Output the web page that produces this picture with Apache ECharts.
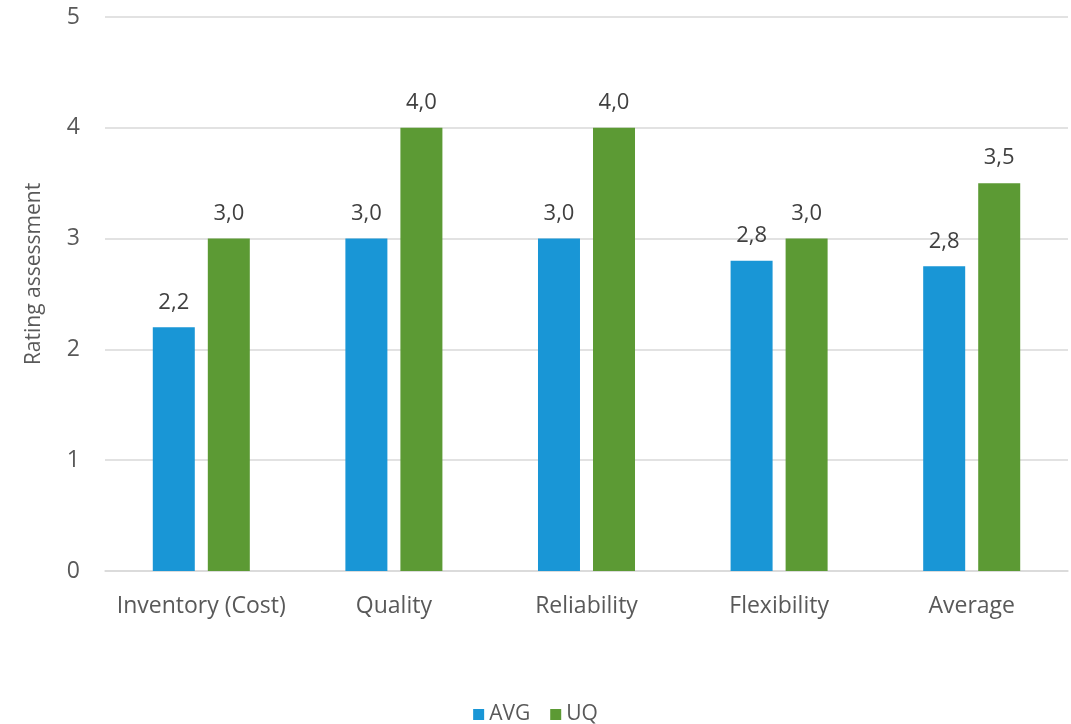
<!DOCTYPE html>
<html><head><meta charset="utf-8">
<script src="https://cdn.jsdelivr.net/npm/echarts@6/dist/echarts.min.js"></script>
<style>html,body{margin:0;padding:0;background:#fff}#c{width:1071px;height:724px}</style>
</head><body><div id="c"></div>
<script>
var categories = ['Inventory (Cost)', 'Quality', 'Reliability', 'Flexibility', 'Average'];
var avgValues = [2.2, 3.0, 3.0, 2.8, 2.75];
var uqValues = [3.0, 4.0, 4.0, 3.0, 3.5];
var yTicks = [0, 1, 2, 3, 4, 5];
var FONT = '"Open Sans", sans-serif';
function fmt(p){ return p.value.toFixed(1).replace('.', ','); }
var chart = echarts.init(document.getElementById('c'));
chart.setOption({
  animation: false,
  textStyle: {fontFamily: FONT},
  grid: {left: 105, right: 3, top: 17, bottom: 153},
  legend: {
    top: 699, left: 'center', itemWidth: 11, itemHeight: 11, itemGap: 20,
    icon: 'rect',
    textStyle: {fontFamily: FONT, fontSize: 21, color: '#595959'},
    data: ['AVG', 'UQ']
  },
  xAxis: {
    type: 'category', data: categories,
    axisLine: {lineStyle: {color: '#d9d9d9', width: 1.5}},
    axisTick: {show: false},
    axisLabel: {interval: 0, fontFamily: FONT, fontSize: 23, color: '#595959', margin: 24}
  },
  yAxis: {
    type: 'value', min: yTicks[0], max: yTicks[yTicks.length - 1], interval: 1,
    name: 'Rating assessment', nameLocation: 'middle', nameGap: 60,
    nameTextStyle: {fontFamily: FONT, fontSize: 21, color: '#595959', padding: [0, 0, 0, 40]},
    axisLine: {show: false}, axisTick: {show: false},
    splitLine: {lineStyle: {color: '#d9d9d9', width: 1.5}},
    axisLabel: {fontFamily: FONT, fontSize: 23, color: '#595959', margin: 25}
  },
  series: [
    {name: 'AVG', type: 'bar', data: avgValues, barWidth: 42, barGap: '31%',
     itemStyle: {color: '#1996d6'},
     label: {show: true, position: 'top', distance: 14, formatter: fmt, fontFamily: FONT, fontSize: 22, color: '#404040'}},
    {name: 'UQ', type: 'bar', data: uqValues, barWidth: 42,
     itemStyle: {color: '#5c9a34'},
     label: {show: true, position: 'top', distance: 14, formatter: fmt, fontFamily: FONT, fontSize: 22, color: '#404040'}}
  ]
});
</script></body></html>
